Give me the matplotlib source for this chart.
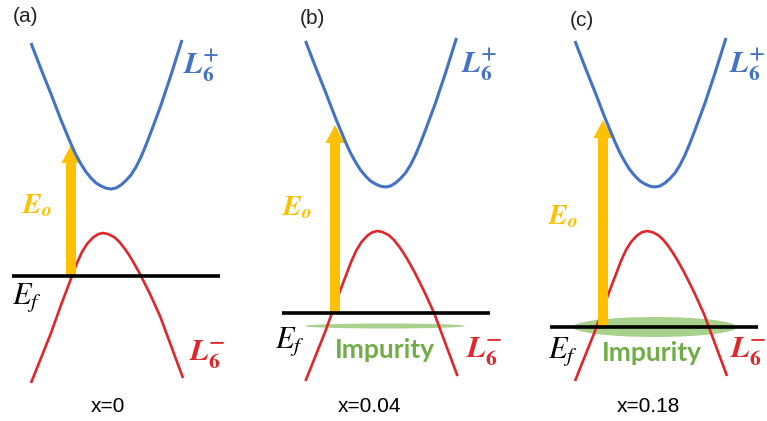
import matplotlib
matplotlib.use('Agg')
import matplotlib.pyplot as plt
from matplotlib.patches import Ellipse

plt.rcParams['mathtext.fontset'] = 'stix'

# ---- shared band shapes (k relative to band centre, E relative to mid-gap) ----
cb_k = [-0.76, -0.66, -0.56, -0.46, -0.36, -0.31, -0.26, -0.21, -0.16, -0.11, -0.06,
        -0.01, 0.04, 0.09, 0.14, 0.19, 0.24, 0.29, 0.34, 0.39, 0.44, 0.54, 0.64, 0.75]
cb_E = [1.68, 1.42, 1.17, 0.91, 0.67, 0.56, 0.47, 0.39, 0.33, 0.28, 0.25,
        0.228, 0.22, 0.23, 0.26, 0.305, 0.36, 0.44, 0.54, 0.66, 0.79, 1.06, 1.36, 1.71]
vb_k = [-0.76, -0.66, -0.56, -0.46, -0.35, -0.30, -0.25, -0.20, -0.14, -0.09, -0.04,
        0.01, 0.07, 0.12, 0.18, 0.22, 0.26, 0.33, 0.43, 0.53, 0.63, 0.76]
vb_E = [-1.72, -1.47, -1.22, -0.94, -0.65, -0.52, -0.41, -0.33, -0.265, -0.232, -0.22,
        -0.23, -0.26, -0.305, -0.38, -0.44, -0.505, -0.63, -0.83, -1.05, -1.32, -1.67]

# ---- per-panel values ----
panels = ['(a)', '(b)', '(c)']
compositions = ['x=0', 'x=0.04', 'x=0.18']
panel_cx = [107, 381.5, 651]      # band centre in figure pixels
panel_cy = [211, 209, 209]        # mid-gap in figure pixels
ef_E = [-0.65, -1.04, -1.18]
ef_k0 = [-0.95, -0.995, -1.01]
ef_k1 = [1.13, 1.085, 1.07]
arrow_k = [-0.36, -0.465, -0.48]
arrow_top = [0.66, 0.84, 0.89]
imp_k = [None, 0.035, 0.04]
imp_E = [None, -1.17, -1.18]
imp_w = [None, 1.60, 1.64]
imp_h = [None, 0.05, 0.20]
imp_text_pos = [None, (0.035, -1.41), (0.01, -1.44)]
letter_pos = [(-0.82, 1.94), (-0.695, 1.91), (-0.69, 1.89)]
lplus_pos = [(0.94, 1.46), (0.975, 1.45), (0.965, 1.45)]
lminus_pos = [(1.00, -1.44), (1.025, -1.43), (0.975, -1.43)]
eo_pos = [(-0.70, 0.06), (-0.845, 0.02), (-0.88, -0.07)]
efl_pos = [(-0.80, -0.87), (-0.915, -1.33), (-0.88, -1.43)]
comp_pos = [(0.01, -1.95), (-0.115, -1.97), (-0.03, -1.97)]

BLUE = '#4472C4'
RED = '#E0262B'
GOLD = '#FFC000'
GREEN_TXT = '#70AD47'
GREEN_FILL = '#A9D18E'

W, H = 767, 421
fig = plt.figure(figsize=(W / 100, H / 100), dpi=100)

for i in range(3):
    ax = fig.add_axes([0, 0, 1, 1])
    ax.patch.set_alpha(0)
    cx, cy = panel_cx[i], panel_cy[i]
    ax.set_xlim(-cx / 100, (W - cx) / 100)
    ax.set_ylim((cy - H) / 100, cy / 100)
    ax.axis('off')

    # impurity band
    if imp_k[i] is not None:
        ax.add_patch(Ellipse((imp_k[i], imp_E[i]), imp_w[i], imp_h[i],
                             facecolor=GREEN_FILL, edgecolor='none', zorder=2))
        tx, ty = imp_text_pos[i]
        ax.text(tx, ty, 'Impurity', color=GREEN_TXT, fontsize=19, fontweight='bold',
                family=['Lato', 'DejaVu Sans'], ha='center', va='center', zorder=6)

    # bands
    ax.plot(vb_k, vb_E, color=RED, lw=1.9, zorder=3, solid_capstyle='butt',
            solid_joinstyle='round')
    ax.plot(cb_k, cb_E, color=BLUE, lw=2.2, zorder=5, solid_capstyle='butt',
            solid_joinstyle='round')

    # Fermi level
    ax.plot([ef_k0[i], ef_k1[i]], [ef_E[i], ef_E[i]], color='black', lw=2.6,
            zorder=4.5, solid_capstyle='butt')

    # optical transition arrow
    ax.arrow(arrow_k[i], ef_E[i], 0, arrow_top[i] - ef_E[i], width=0.10,
             head_width=0.19, head_length=0.18, length_includes_head=True,
             color=GOLD, ec='none', zorder=4)

    # labels
    ax.text(*letter_pos[i], panels[i], fontsize=15, color='#222222',
            family='Liberation Sans', ha='center', va='center')
    ax.text(*lplus_pos[i], r'$\mathbfit{L}_{\mathbf{6}}^{\mathbf{+}}$', fontsize=22,
            color=BLUE, ha='center', va='center')
    ax.text(*lminus_pos[i], r'$\mathbfit{L}_{\mathbf{6}}^{\mathbf{-}}$', fontsize=22,
            color=RED, ha='center', va='center')
    ax.text(*eo_pos[i], r'$\mathbfit{E}_{\mathbfit{o}}$', fontsize=20,
            color=GOLD, ha='center', va='center')
    ax.text(*efl_pos[i], r'$E_f$', fontsize=22, color='black', ha='center', va='center')
    ax.text(*comp_pos[i], compositions[i], fontsize=15, color='black',
            family='Liberation Sans', ha='center', va='center')

fig.savefig('out.png', dpi=100)
